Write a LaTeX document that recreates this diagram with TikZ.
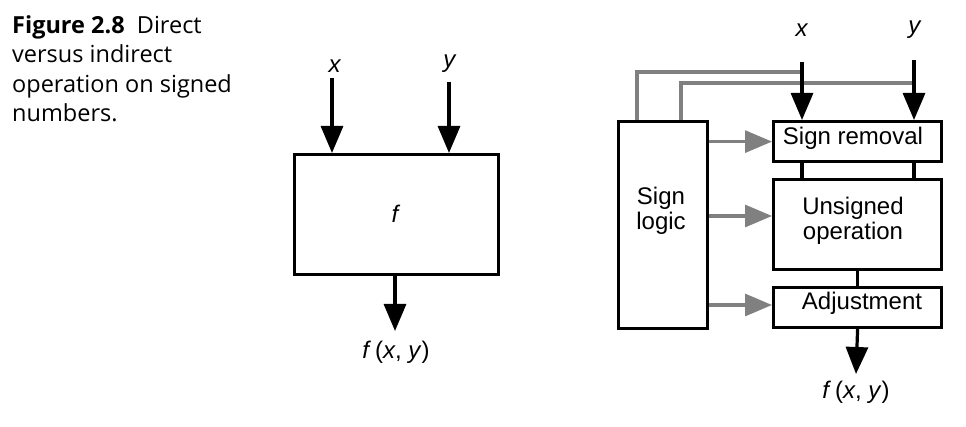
\documentclass[tikz,border=0pt]{standalone}
\usepackage{fontspec}
\setmainfont{Liberation Sans}
\newfontfamily\capfont{Open Sans}
\usetikzlibrary{arrows.meta}
\definecolor{lgray}{HTML}{808080}
\tikzset{
  blk/.style={draw=black, line width=3.2pt, fill=white, inner sep=0pt, anchor=north west},
  lbl/.style={font=\fontsize{24}{28}\selectfont, inner sep=0pt},
  arr/.style={line width=3.2pt, -{Triangle[length=27pt,width=22pt]}},
  garr/.style={draw=lgray, line width=3.2pt, -{Triangle[length=27pt,width=22pt,color=lgray]}},
  gline/.style={draw=lgray, line width=3.2pt},
  bline/.style={draw=black, line width=3.2pt},
}
\begin{document}
\begin{tikzpicture}[x=1pt,y=-1pt]
\useasboundingbox (0,0) rectangle (966,427);
% caption
\node[anchor=base west, inner sep=0pt, align=left, font=\capfont\fontsize{23.5}{29.6}\selectfont] (cap) at (12,122)
  {\textbf{Figure 2.8}\ \ Direct\\versus indirect\\operation on signed\\numbers.};
% left diagram
\node[blk, minimum width=204pt, minimum height=120pt] (fbox) at (293,153) {};
\node[lbl] (flab) at (396,214) {\textit{f}};
\node[lbl] (xl) at (335,66) {\textit{x}};
\node[lbl] (yl) at (450,64) {\textit{y}};
\coordinate (xin) at (332,78);
\coordinate (yin) at (449,82);
\draw[arr] (xin) -- (xin |- fbox.north);
\draw[arr] (yin) -- (yin |- fbox.north);
\coordinate (fout) at (395,331);
\draw[arr] (fbox.south -| fout) -- (fout);
\node[lbl] (fxy1) at (396,352) {\textit{f}\,(\textit{x}, \textit{y})};
% right diagram
\coordinate (rxin) at (802,62);
\coordinate (ryin) at (914,60);
\coordinate (xg) at (802,72);
\coordinate (yg) at (914,83);
\coordinate (g1) at (637,120);
\coordinate (g2) at (681,120);
\draw[gline] (xg) -| (g1);
\draw[gline] (yg) -| (g2);
\node[blk, minimum width=89pt, minimum height=207pt] (sl) at (617,120) {};
\node[lbl, align=center, font=\fontsize{24}{25}\selectfont] (sltxt) at (661,211) {Sign\\logic};
\node[blk, minimum width=168pt, minimum height=40pt] (sr) at (772,120) {};
\node[lbl] (srtxt) at (853,138) {Sign removal};
\node[blk, minimum width=168pt, minimum height=90pt] (uo) at (772,178) {};
\node[lbl, align=center, font=\fontsize{24}{25}\selectfont] (uotxt) at (853,221) {Unsigned\\operation};
\node[blk, minimum width=168pt, minimum height=40pt] (ad) at (772,286) {};
\node[lbl] (adtxt) at (862,303) {Adjustment};
\node[lbl] (rxl) at (802,30) {\textit{x}};
\node[lbl] (ryl) at (915,30) {\textit{y}};
\draw[arr] (rxin) -- (rxin |- sr.north);
\draw[arr] (ryin) -- (ryin |- sr.north);
\draw[bline] (sr.south -| 802,0) -- (uo.north -| 802,0);
\draw[bline] (sr.south -| 914,0) -- (uo.north -| 914,0);
\draw[bline] (uo.south) -- (ad.north);
\coordinate (rout) at (856,374);
\draw[arr] (ad.south) -- (rout);
\node[lbl] (fxy2) at (856,392) {\textit{f}\,(\textit{x}, \textit{y})};
\draw[garr] (sl.east |- sr.west) -- (sr.west);
\draw[garr] (sl.east |- 0,216) -- (uo.west |- 0,216);
\draw[garr] (sl.east |- 0,305) -- (ad.west |- 0,305);
\end{tikzpicture}
\end{document}
